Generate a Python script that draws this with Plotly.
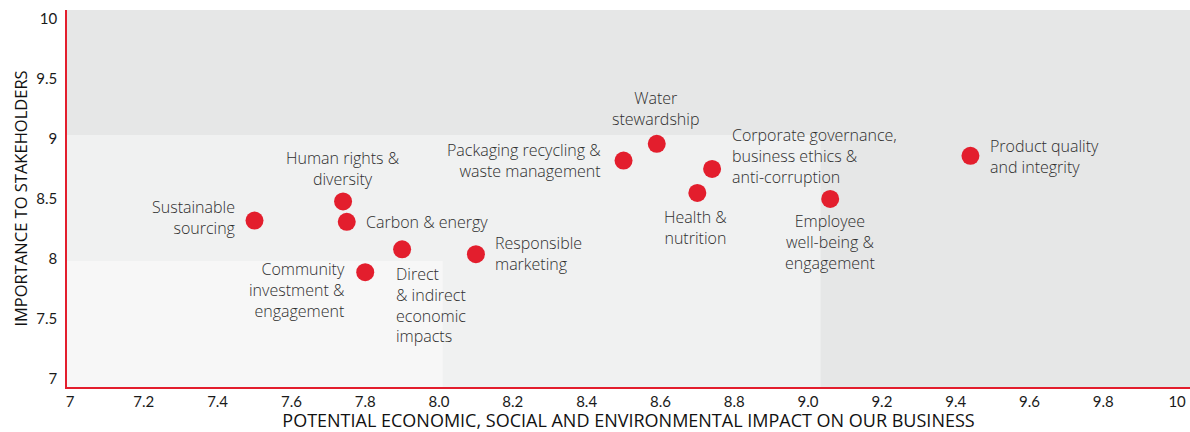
import plotly.graph_objects as go

# ---- data ----
topics = [
    "Sustainable<br>sourcing",
    "Human rights &<br>diversity",
    "Carbon & energy",
    "Direct<br>& indirect<br>economic<br>impacts",
    "Community<br>investment &<br>engagement",
    "Responsible<br>marketing",
    "Packaging recycling &<br>waste management",
    "Water<br>stewardship",
    "Corporate governance,<br>business ethics &<br>anti-corruption",
    "Health &<br>nutrition",
    "Employee<br>well-being &<br>engagement",
    "Product quality<br>and integrity",
]
impact = [7.50, 7.74, 7.75, 7.90, 7.80, 8.10, 8.50, 8.59, 8.74, 8.70, 9.06, 9.44]
importance = [8.32, 8.48, 8.31, 8.08, 7.89, 8.04, 8.82, 8.96, 8.75, 8.55, 8.50, 8.86]
x_ticks = [7, 7.2, 7.4, 7.6, 7.8, 8.0, 8.2, 8.4, 8.6, 8.8, 9.0, 9.2, 9.4, 9.6, 9.8, 10]
x_tick_text = ["7", "7.2", "7.4", "7.6", "7.8", "8.0", "8.2", "8.4", "8.6", "8.8",
               "9.0", "9.2", "9.4", "9.6", "9.8", "10"]
y_ticks = [7, 7.5, 8, 8.5, 9, 9.5, 10]
y_tick_text = ["7", "7.5", "8", "8.5", "9", "9.5", "10"]

# ---- label placement (layout styling) ----
# (xanchor, align, xshift, yshift of block centre)
placement = [
    ("right", "right", -17, 3),
    ("center", "center", 0, 33),
    ("left", "left", 17, 0),
    ("left", "left", -8, -56),
    ("right", "right", -18, -18),
    ("left", "left", 17, 1),
    ("right", "right", -21, 0),
    ("center", "center", -1, 35),
    ("left", "left", 18, 13),
    ("center", "center", -2, -35),
    ("center", "center", 0, -43),
    ("left", "left", 18, -1),
]

RED = "#e31e2d"
TEXT = "#2e2e2e"

fig = go.Figure()
fig.add_trace(go.Scatter(
    x=impact, y=importance, mode="markers",
    marker=dict(color=RED, size=18, line=dict(width=0)),
    hoverinfo="skip", showlegend=False,
))

annotations = []
for t, xv, yv, (xa, al, xs, ys) in zip(topics, impact, importance, placement):
    annotations.append(dict(
        x=xv, y=yv, xref="x", yref="y", text=t, showarrow=False,
        xanchor=xa, yanchor="middle", align=al, xshift=xs, yshift=ys,
        font=dict(family="Open Sans", size=16, color=TEXT, weight=300),
    ))

X0, X1 = 6.9919, 10.035
Y0, Y1 = 6.933, 10.075
shapes = [
    dict(type="rect", xref="x", yref="y", x0=X0, x1=X1, y0=Y0, y1=Y1,
         fillcolor="#e6e7e7", line=dict(width=0), layer="below"),
    dict(type="rect", xref="x", yref="y", x0=X0, x1=9.034, y0=Y0, y1=9.033,
         fillcolor="#f0f1f1", line=dict(width=0), layer="below"),
    dict(type="rect", xref="x", yref="y", x0=X0, x1=8.01, y0=Y0, y1=7.983,
         fillcolor="#f7f7f7", line=dict(width=0), layer="below"),
]

fig.update_layout(
    width=1190, height=432,
    margin=dict(l=67, r=0, t=10, b=45),
    paper_bgcolor="white", plot_bgcolor="white",
    shapes=shapes, annotations=annotations,
    font=dict(family="Lato", color="#1a1a1a"),
    xaxis=dict(
        range=[X0, X1], tickvals=x_ticks, ticktext=x_tick_text,
        showgrid=False, zeroline=False, showline=True, linecolor=RED, linewidth=1.5,
        ticks="", tickfont=dict(size=15, color="#1a1a1a"),
        title=dict(text="POTENTIAL ECONOMIC, SOCIAL AND ENVIRONMENTAL IMPACT ON OUR BUSINESS",
                   font=dict(family="Open Sans", size=18, color="#111111"), standoff=5),
    ),
    yaxis=dict(
        range=[Y0, Y1], tickvals=y_ticks, ticktext=y_tick_text,
        showgrid=False, zeroline=False, showline=True, linecolor=RED, linewidth=1.5,
        ticks="", ticklabelstandoff=5, tickfont=dict(size=15, color="#1a1a1a"),
        title=dict(text="IMPORTANCE TO STAKEHOLDERS",
                   font=dict(family="Open Sans", size=16.5, color="#111111"), standoff=5),
    ),
)

fig.write_html("out.html")
